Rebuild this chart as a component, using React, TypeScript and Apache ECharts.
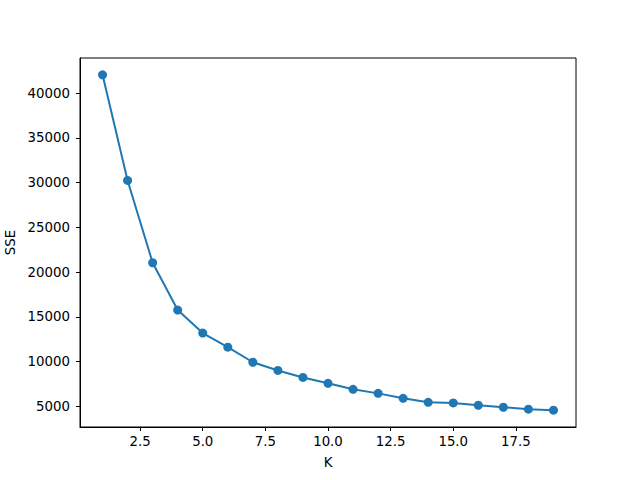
import React, { useEffect, useRef } from "react";
import * as echarts from "echarts";

const kValues = [1, 2, 3, 4, 5, 6, 7, 8, 9, 10, 11, 12, 13, 14, 15, 16, 17, 18, 19];
const sseValues = [42050, 30240, 21040, 15750, 13180, 11600, 9920, 9000, 8220, 7560, 6890, 6440, 5890, 5440, 5370, 5110, 4890, 4670, 4560];
const xTicks = [2.5, 5.0, 7.5, 10.0, 12.5, 15.0, 17.5];
const yTicks = [5000, 10000, 15000, 20000, 25000, 30000, 35000, 40000];

const FONT = "DejaVu Sans";

export default function App() {
  const ref = useRef<HTMLDivElement>(null);
  useEffect(() => {
    if (!ref.current) return;
    const chart = echarts.init(ref.current, null, { renderer: "svg" });
    const data = kValues.map((k, i) => [k, sseValues[i]]);
    chart.setOption({
      animation: false,
      backgroundColor: "#ffffff",
      grid: {
        left: 80,
        right: 64,
        top: 58,
        bottom: 53,
        containLabel: false,
        outerBoundsMode: "none",
        show: true,
        borderColor: "#000000",
        borderWidth: 1,
        backgroundColor: "transparent",
      },
      xAxis: {
        type: "value",
        min: 0.1,
        max: 19.9,
        name: "K",
        nameLocation: "middle",
        nameGap: 29,
        nameTextStyle: { fontFamily: FONT, fontSize: 13.33, color: "#000" },
        axisLine: { show: true, onZero: false, lineStyle: { color: "#000", width: 1 } },
        axisTick: { show: true, length: 4, inside: false, customValues: xTicks, lineStyle: { color: "#000", width: 1 } },
        axisLabel: {
          customValues: xTicks,
          margin: 8,
          fontFamily: FONT,
          fontSize: 13.33,
          color: "#000",
          formatter: (v: number) => v.toFixed(1),
        },
        splitLine: { show: false },
      },
      yAxis: {
        type: "value",
        min: 2680,
        max: 43930,
        name: "SSE",
        nameLocation: "middle",
        nameGap: 58,
        nameRotate: 90,
        nameTextStyle: { fontFamily: FONT, fontSize: 13.33, color: "#000" },
        axisLine: { show: true, onZero: false, lineStyle: { color: "#000", width: 1 } },
        axisTick: { show: true, length: 4, inside: false, customValues: yTicks, lineStyle: { color: "#000", width: 1 } },
        axisLabel: {
          customValues: yTicks,
          margin: 10,
          fontFamily: FONT,
          fontSize: 13.33,
          color: "#000",
          formatter: (v: number) => String(v),
        },
        splitLine: { show: false },
      },
      series: [
        {
          type: "line",
          data,
          symbol: "circle",
          symbolSize: 9,
          showSymbol: true,
          lineStyle: { color: "#1f77b4", width: 2 },
          itemStyle: { color: "#1f77b4", borderWidth: 0 },
        },
      ],
    });
    return () => chart.dispose();
  }, []);
  return <div ref={ref} style={{ width: 640, height: 480, position: "absolute", left: 0, top: 0 }} />;
}
